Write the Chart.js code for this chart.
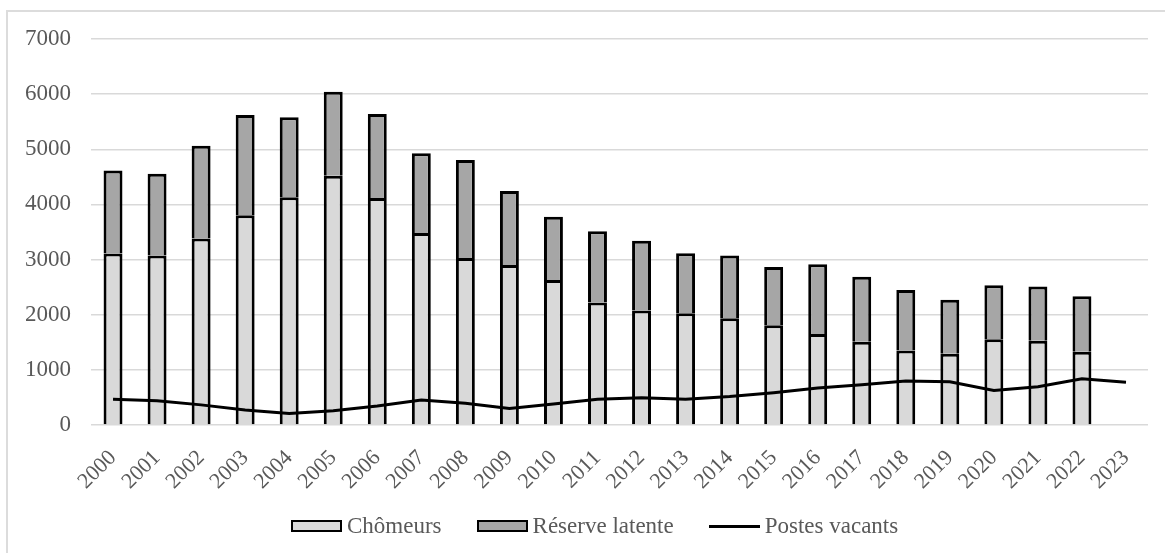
<!DOCTYPE html>
<html lang="fr">
<head>
<meta charset="utf-8">
<title>Chômeurs, réserve latente et postes vacants</title>
<script src="https://cdn.jsdelivr.net/npm/chart.js@4/dist/chart.umd.min.js"></script>
<style>
  html, body { margin: 0; padding: 0; background: #ffffff; }
  #wrap { position: relative; width: 1165px; height: 553px; overflow: hidden; }
  #frame { position: absolute; left: 6px; top: 10px; width: 1300px; height: 700px;
           border-left: 2px solid #dcdcdc; border-top: 2px solid #dcdcdc; }
  #chart { position: absolute; left: 0; top: 0; }
  #legend { position: absolute; left: 291px; top: 513px; display: flex; align-items: center;
            font-family: "Liberation Serif", "Times New Roman", serif; font-size: 23px; color: #595959;
            line-height: 26px; white-space: nowrap; }
  #legend .item { display: flex; align-items: center; margin-right: 35px; }
  #legend .item:last-child { margin-right: 0; }
  #legend .swatch { box-sizing: border-box; width: 51px; height: 12px; border: 2px solid #000; margin-right: 5px; }
  #legend .swatch.line { height: 3px; border: none; background: #000; }
</style>
</head>
<body>
<div id="wrap">
  <div id="frame"></div>
  <canvas id="chart" width="1165" height="553"></canvas>
  <div id="legend"></div>
</div>
<script>
const years = ['2000','2001','2002','2003','2004','2005','2006','2007','2008','2009','2010','2011',
               '2012','2013','2014','2015','2016','2017','2018','2019','2020','2021','2022','2023'];
const chomeurs = [3110, 3075, 3380, 3805, 4130, 4520, 4115, 3480, 3030, 2900, 2630, 2220,
                  2075, 2025, 1935, 1810, 1650, 1510, 1350, 1290, 1555, 1530, 1330, null];
const reserveLatente = [1505, 1480, 1685, 1815, 1450, 1525, 1525, 1450, 1775, 1345, 1145, 1295,
                        1265, 1090, 1140, 1055, 1265, 1180, 1100, 980, 980, 980, 1005, null];
const postesVacants = [465, 440, 365, 270, 210, 260, 345, 455, 395, 300, 380, 465,
                       495, 465, 515, 585, 670, 730, 800, 785, 625, 695, 840, 775];
const yTicks = [0, 1000, 2000, 3000, 4000, 5000, 6000, 7000];

const serif = '"Liberation Serif", "Times New Roman", serif';
const textGrey = '#595959';

// Builds the legend below the canvas from the chart's own legend items
const htmlLegend = {
  id: 'htmlLegend',
  afterUpdate(chart) {
    const box = document.getElementById('legend');
    box.innerHTML = '';
    const items = chart.options.plugins.legend.labels.generateLabels(chart)
      .sort((a, b) => a.datasetIndex - b.datasetIndex);
    items.forEach(it => {
      const ds = chart.data.datasets[it.datasetIndex];
      const el = document.createElement('span');
      el.className = 'item';
      const sw = document.createElement('span');
      sw.className = 'swatch' + (ds.type === 'line' ? ' line' : '');
      if (ds.type !== 'line') sw.style.background = ds.backgroundColor;
      const tx = document.createElement('span');
      tx.textContent = it.text;
      el.appendChild(sw);
      el.appendChild(tx);
      box.appendChild(el);
    });
  }
};

new Chart(document.getElementById('chart'), {
  data: {
    labels: years,
    datasets: [
      { type: 'bar', label: 'Chômeurs', data: chomeurs, backgroundColor: '#d9d9d9',
        borderColor: '#000000', borderWidth: 3, order: 1, stack: 'pop' },
      { type: 'bar', label: 'Réserve latente', data: reserveLatente, backgroundColor: '#a6a6a6',
        borderColor: '#000000', borderWidth: 3, order: 1, stack: 'pop' },
      { type: 'line', label: 'Postes vacants', data: postesVacants, borderColor: '#000000',
        backgroundColor: '#000000', borderWidth: 3, pointRadius: 0, pointHoverRadius: 0,
        tension: 0, order: 0 }
    ]
  },
  options: {
    responsive: false,
    animation: false,
    layout: { padding: { left: 0, right: 16, top: 39, bottom: 60 } },
    datasets: { bar: { categoryPercentage: 1, barPercentage: 0.43 } },
    plugins: {
      legend: { display: false },
      tooltip: { enabled: false }
    },
    scales: {
      x: {
        stacked: true,
        grid: { display: false, drawTicks: false },
        border: { display: false },
        ticks: { color: textGrey, font: { family: serif, size: 22 }, minRotation: 45, maxRotation: 45,
                 autoSkip: false, padding: 20 },
        afterFit(scale) { scale.height = 68; }
      },
      y: {
        stacked: true,
        min: 0, max: 7000,
        afterBuildTicks(scale) { scale.ticks = yTicks.map(v => ({ value: v })); },
        grid: { color: '#d9d9d9', lineWidth: 1.5, drawTicks: false },
        border: { display: false },
        ticks: { color: textGrey, font: { family: serif, size: 23 }, padding: 20,
                 callback: v => String(v) },
        afterFit(scale) { scale.width = 91; }
      }
    }
  },
  plugins: [htmlLegend]
});
</script>
</body>
</html>
